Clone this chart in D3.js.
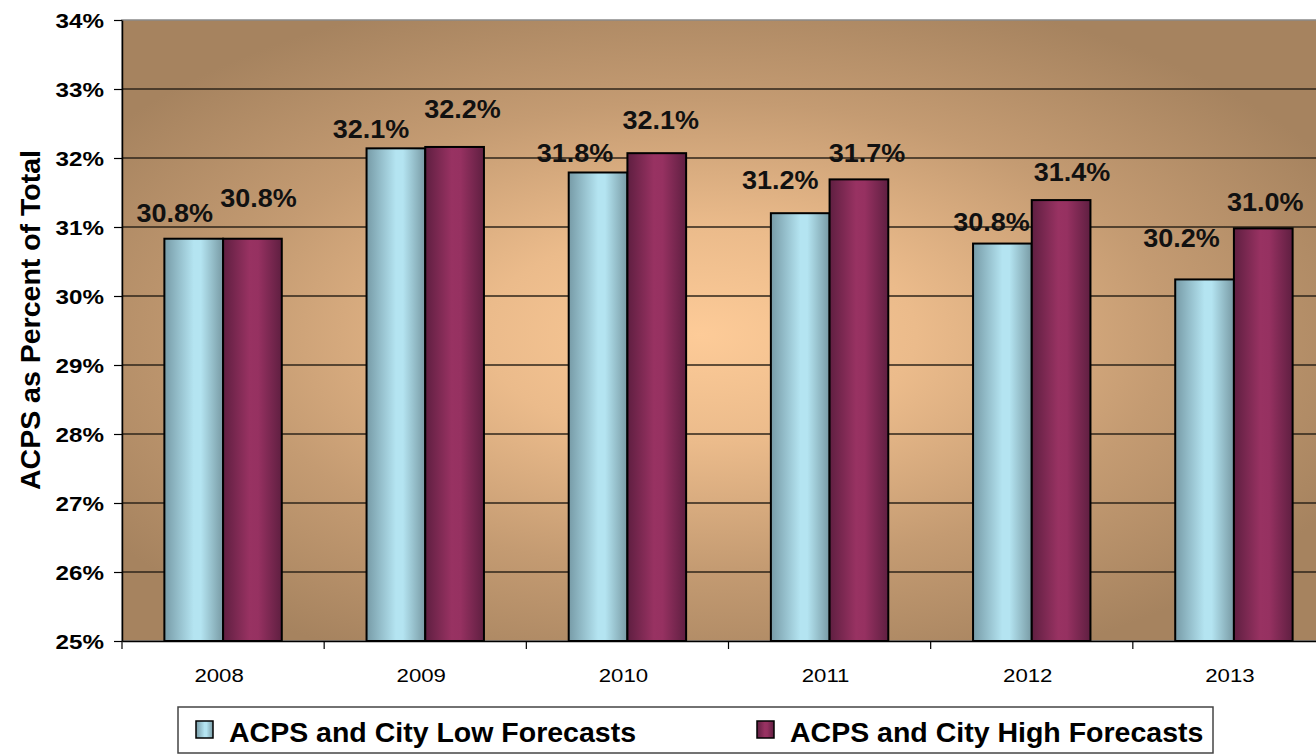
<!DOCTYPE html>
<html>
<head>
<meta charset="utf-8">
<script src="https://cdn.jsdelivr.net/npm/d3@7"></script>
<style>
  html, body { margin: 0; padding: 0; background: #ffffff; }
  svg { display: block; font-family: "Liberation Sans", Arial, sans-serif; }
</style>
</head>
<body>
<svg id="chart" width="1316" height="755"></svg>
<script>
// ACPS share of total, low vs high forecasts
const years = ['2008', '2009', '2010', '2011', '2012', '2013'];
const seriesNames = ['ACPS and City Low Forecasts', 'ACPS and City High Forecasts'];
const lowForecast = [30.83, 32.14, 31.79, 31.20, 30.76, 30.24];
const highForecast = [30.83, 32.16, 32.07, 31.69, 31.39, 30.98];
const yTicks = [25, 26, 27, 28, 29, 30, 31, 32, 33, 34];

const rows = years.map((yr, i) => ({
  year: yr,
  i: i,
  values: [
    { key: seriesNames[0], value: lowForecast[i], idx: 0, row: i },
    { key: seriesNames[1], value: highForecast[i], idx: 1, row: i }
  ]
}));

const svg = d3.select('#chart');
const plot = { left: 122, top: 20, bottom: 641, right: 1335 };

const x0 = d3.scaleBand().domain(years).range([plot.left, plot.right]).padding(0);
const x1 = d3.scaleBand().domain(seriesNames).range([0, x0.bandwidth()])
  .paddingInner(0).paddingOuter(0.722);
const y = d3.scaleLinear().domain([25, 34]).range([plot.bottom, plot.top]);

// gradients
const defs = svg.append('defs');
const bg = defs.append('radialGradient').attr('id', 'plotBg')
  .attr('gradientUnits', 'userSpaceOnUse')
  .attr('cx', 700).attr('cy', 335).attr('r', 720)
  .attr('gradientTransform', 'translate(700,335) scale(1,0.5) translate(-700,-335)');
[[0, '#fdcb98'], [0.3, '#ebbb8b'], [0.65, '#c49b72'], [1, '#a6835f']].forEach(([o, c]) =>
  bg.append('stop').attr('offset', o).attr('stop-color', c));

const barGrad = [
  [[0, '#779ba7'], [0.5, '#b4e4f1'], [0.62, '#b4e4f1'], [1, '#789aa4']],
  [[0, '#5f1f41'], [0.45, '#983262'], [0.6, '#963161'], [1, '#5f1f41']]
];
barGrad.forEach((stops, i) => {
  const g = defs.append('linearGradient').attr('id', 'bar' + i)
    .attr('x1', 0).attr('x2', 1).attr('y1', 0).attr('y2', 0);
  stops.forEach(([o, c]) => g.append('stop').attr('offset', o).attr('stop-color', c));
});

// plot area
svg.append('rect')
  .attr('x', plot.left).attr('y', plot.top)
  .attr('width', plot.right - plot.left).attr('height', plot.bottom - plot.top)
  .attr('fill', 'url(#plotBg)')
  .attr('stroke', '#8a8a8a').attr('stroke-width', 1.5);

// gridlines
svg.append('g').selectAll('line')
  .data(yTicks.filter(t => t > 25 && t < 34))
  .join('line')
  .attr('x1', plot.left).attr('x2', plot.right)
  .attr('y1', d => y(d)).attr('y2', d => y(d))
  .attr('stroke', '#2e241a').attr('stroke-width', 1.4);

// y axis
const yAxis = svg.append('g')
  .attr('transform', `translate(${plot.left},0)`)
  .call(d3.axisLeft(y).tickValues(yTicks).tickFormat(d => d + '%').tickSize(8).tickSizeOuter(0));
yAxis.select('.domain').attr('stroke', '#000').attr('stroke-width', 1.5);
yAxis.selectAll('.tick line').attr('stroke', '#000').attr('stroke-width', 1.2);
yAxis.selectAll('.tick text')
  .attr('x', 0).attr('dy', null).attr('y', 7.5)
  .attr('transform', 'translate(-18,0) scale(1.18,1)')
  .attr('font-size', 20.5).attr('font-weight', 'bold').attr('fill', '#000')
  .attr('font-family', '"Liberation Sans", Arial, sans-serif');

// x axis
const xAxis = svg.append('g')
  .attr('transform', `translate(0,${plot.bottom})`)
  .call(d3.axisBottom(x0).tickSize(0).tickSizeOuter(0));
xAxis.select('.domain').attr('stroke', '#000').attr('stroke-width', 1.5);
xAxis.selectAll('.tick text')
  .attr('y', 0).attr('dy', null)
  .attr('transform', 'translate(-4,41) scale(1.2,1)')
  .attr('font-size', 18.5).attr('fill', '#000')
  .attr('font-family', '"Liberation Sans", Arial, sans-serif');
xAxis.append('g').selectAll('line')
  .data(years.map(d => x0(d)).concat([plot.right]))
  .join('line')
  .attr('x1', d => d).attr('x2', d => d)
  .attr('y1', 0).attr('y2', 8)
  .attr('stroke', '#000').attr('stroke-width', 1.2);

// bars
const groups = svg.append('g').selectAll('g')
  .data(rows).join('g')
  .attr('transform', d => `translate(${x0(d.year)},0)`);

groups.selectAll('rect')
  .data(d => d.values).join('rect')
  .attr('x', d => x1(d.key))
  .attr('y', d => y(d.value))
  .attr('width', x1.bandwidth())
  .attr('height', d => y(25) - y(d.value))
  .attr('fill', d => `url(#bar${d.idx})`)
  .attr('stroke', '#000').attr('stroke-width', 2);

// value labels, nudged off the bar tops so neighbouring labels don't collide
const labelNudge = [
  [[-19, -17], [6, -32]],
  [[-25, -10], [8, -29]],
  [[-23, -10], [4, -24]],
  [[-20, -24], [8, -17]],
  [[-11, -13], [11, -19]],
  [[-23, -32], [2, -17]]
];
groups.selectAll('text')
  .data(d => d.values).join('text')
  .attr('transform', d => {
    const [dx, dy] = labelNudge[d.row][d.idx];
    const cx = x1(d.key) + x1.bandwidth() / 2 + dx;
    const cy = y(d.value) + dy;
    return `translate(${cx},${cy}) scale(1.08,1)`;
  })
  .attr('text-anchor', 'middle')
  .attr('font-size', 25).attr('font-weight', 'bold').attr('fill', '#111')
  .text(d => d.value.toFixed(1) + '%');

// y axis title
svg.append('text')
  .attr('transform', `translate(40,320) rotate(-90)`)
  .attr('text-anchor', 'middle')
  .attr('font-size', 28.5).attr('font-weight', 'bold').attr('fill', '#000')
  .text('ACPS as Percent of Total');

// legend
const legend = svg.append('g');
legend.append('rect')
  .attr('x', 178).attr('y', 707).attr('width', 1035).attr('height', 46)
  .attr('fill', '#fff').attr('stroke', '#444').attr('stroke-width', 1.5);
const legendX = [196, 757];
const items = legend.selectAll('g.item')
  .data(seriesNames).join('g')
  .attr('class', 'item')
  .attr('transform', (d, i) => `translate(${legendX[i]},721)`);
items.append('rect')
  .attr('width', 17).attr('height', 17)
  .attr('fill', (d, i) => `url(#bar${i})`)
  .attr('stroke', '#000').attr('stroke-width', 1.5);
items.append('text')
  .attr('x', 33).attr('y', 21)
  .attr('font-size', 28.5).attr('font-weight', 'bold').attr('fill', '#000')
  .text(d => d);
</script>
</body>
</html>
